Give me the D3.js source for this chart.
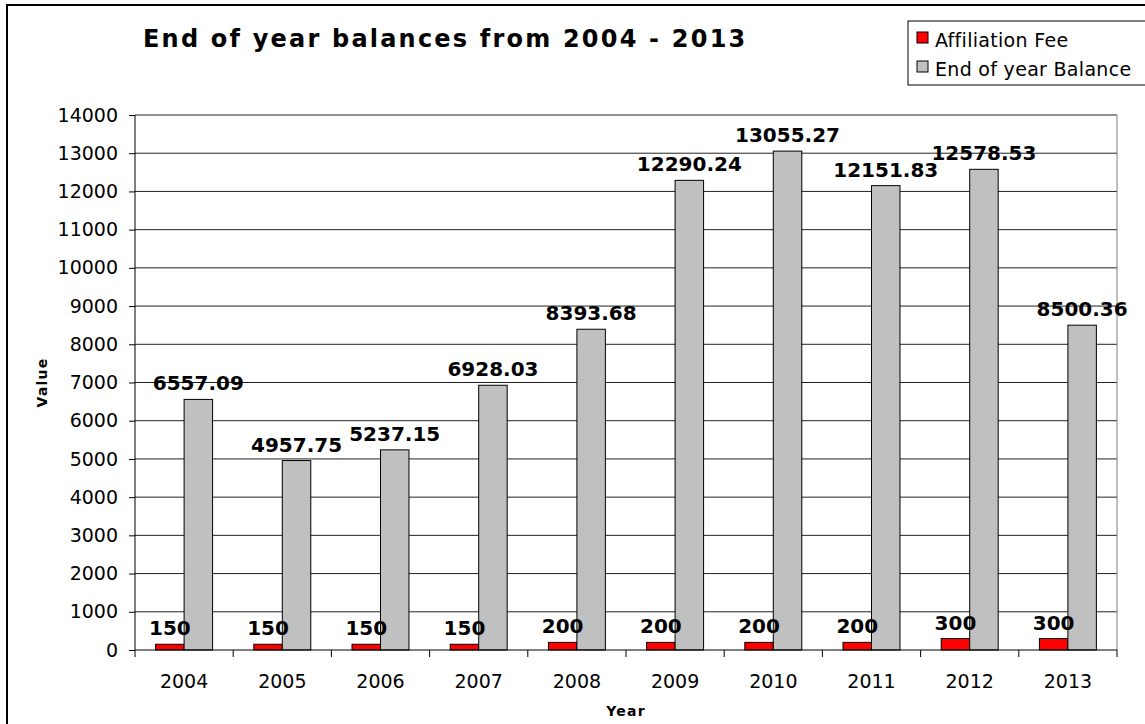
<!DOCTYPE html>
<html>
<head>
<meta charset="utf-8">
<script src="https://cdn.jsdelivr.net/npm/d3@7"></script>
<style>
  body { margin: 0; background: #fff; }
  svg { display: block; font-family: "DejaVu Sans", Verdana, sans-serif; }
</style>
</head>
<body>
<svg width="1145" height="724"></svg>
<script>
// data
const years = ["2004", "2005", "2006", "2007", "2008", "2009", "2010", "2011", "2012", "2013"]
const seriesNames = ["Affiliation Fee", "End of year Balance"]
const affiliationFee = [150, 150, 150, 150, 200, 200, 200, 200, 300, 300]
const endBalance = [6557.09, 4957.75, 5237.15, 6928.03, 8393.68, 12290.24, 13055.27, 12151.83, 12578.53, 8500.36]
const feeLabels = ["150", "150", "150", "150", "200", "200", "200", "200", "300", "300"]
const balanceLabels = ["6557.09", "4957.75", "5237.15", "6928.03", "8393.68", "12290.24", "13055.27", "12151.83", "12578.53", "8500.36"]
const yTicks = [0, 1000, 2000, 3000, 4000, 5000, 6000, 7000, 8000, 9000, 10000, 11000, 12000, 13000, 14000]
const colors = ["#ff0000", "#c0c0c0"]

const svg = d3.select("svg")
const plotL = 135, plotR = 1117, plotT = 115, plotB = 650

// outer frame
svg.append("rect")
	.attr("x", 7).attr("y", 5)
	.attr("width", 1150).attr("height", 730)
	.attr("fill", "none").attr("stroke", "#000").attr("stroke-width", 2)

var x = d3.scaleBand().domain(years).range([plotL, plotR])
var bw = x.bandwidth()
var x1 = d3.scaleBand().domain(seriesNames).range([bw * 0.21, bw * 0.79])
var y = d3.scaleLinear().domain([0, 14000]).range([plotB, plotT])

// gridlines
svg.append("g").selectAll("line")
	.data(yTicks.slice(1))
	.enter().append("line")
	.attr("x1", plotL).attr("x2", plotR)
	.attr("y1", d => y(d)).attr("y2", d => y(d))
	.attr("stroke", "#222").attr("stroke-width", 1)

// plot right edge
svg.append("line")
	.attr("x1", plotR).attr("x2", plotR).attr("y1", plotT).attr("y2", plotB)
	.attr("stroke", "#808080").attr("stroke-width", 1)

// y axis
var yAxis = svg.append("g")
	.attr("transform", `translate(${plotL},0)`)
	.call(d3.axisLeft(y).tickValues(yTicks).tickSize(6).tickPadding(11).tickFormat(d3.format("d")))
yAxis.selectAll("text").attr("font-size", 19).attr("fill", "#000").attr("font-family", "DejaVu Sans")
yAxis.selectAll("path, line").attr("stroke", "#000")
yAxis.select("path").attr("d", `M0,${plotT}V${plotB}`)

// bars
var groups = svg.append("g").selectAll("g")
	.data(years)
	.enter().append("g")
	.attr("transform", d => `translate(${x(d)},0)`)

var rows = years.map((yr, i) => [
	{ s: seriesNames[0], v: affiliationFee[i], label: feeLabels[i], c: colors[0] },
	{ s: seriesNames[1], v: endBalance[i], label: balanceLabels[i], c: colors[1] }
])

groups.selectAll("rect")
	.data((d, i) => rows[i])
	.enter().append("rect")
	.attr("x", d => x1(d.s))
	.attr("width", x1.bandwidth())
	.attr("y", d => y(d.v))
	.attr("height", d => plotB - y(d.v))
	.attr("fill", d => d.c)
	.attr("stroke", "#000").attr("stroke-width", 1)

groups.selectAll("text")
	.data((d, i) => rows[i])
	.enter().append("text")
	.attr("x", d => x1(d.s) + x1.bandwidth() / 2)
	.attr("y", d => y(d.v) - 9)
	.attr("text-anchor", "middle")
	.attr("font-size", 20).attr("font-weight", "bold")
	.text(d => d.label)

// x axis
var xAxis = svg.append("g")
	.attr("transform", `translate(0,${plotB})`)
	.call(d3.axisBottom(x).tickSize(0).tickPadding(25))
xAxis.select("path").attr("d", `M${plotL},0H${plotR}`).attr("stroke", "#000")
xAxis.selectAll("text").attr("font-size", 19).attr("fill", "#000").attr("font-family", "DejaVu Sans")
svg.append("g").selectAll("line")
	.data(years.concat(["end"]))
	.enter().append("line")
	.attr("x1", d => d === "end" ? plotR : x(d)).attr("x2", d => d === "end" ? plotR : x(d))
	.attr("y1", plotB).attr("y2", plotB + 7)
	.attr("stroke", "#000")

// axis titles
svg.append("text")
	.attr("x", (plotL + plotR) / 2).attr("y", 716)
	.attr("text-anchor", "middle")
	.attr("font-size", 14).attr("font-weight", "bold").attr("letter-spacing", 1.2)
	.text("Year")
svg.append("text")
	.attr("transform", `translate(47,${(plotT + plotB) / 2}) rotate(-90)`)
	.attr("text-anchor", "middle")
	.attr("font-size", 14).attr("font-weight", "bold").attr("letter-spacing", 1.2)
	.text("Value")

// title
svg.append("text")
	.attr("x", 143).attr("y", 47)
	.attr("font-size", 24).attr("font-weight", "bold").attr("letter-spacing", 2.2)
	.text("End of year balances from 2004 - 2013")

// legend
var legend = svg.append("g").attr("transform", "translate(908,21)")
legend.append("rect")
	.attr("width", 260).attr("height", 64)
	.attr("fill", "#fff").attr("stroke", "#000").attr("stroke-width", 1)
var items = legend.selectAll("g.item")
	.data(seriesNames)
	.enter().append("g")
	.attr("class", "item")
	.attr("transform", (d, i) => `translate(9,${11 + i * 29})`)
items.append("rect")
	.attr("width", 11).attr("height", 11)
	.attr("fill", (d, i) => colors[i])
	.attr("stroke", "#000").attr("stroke-width", 1)
items.append("text")
	.attr("x", 18).attr("y", 15)
	.attr("font-size", 19).attr("letter-spacing", 0.3)
	.text(d => d)
</script>
</body>
</html>
